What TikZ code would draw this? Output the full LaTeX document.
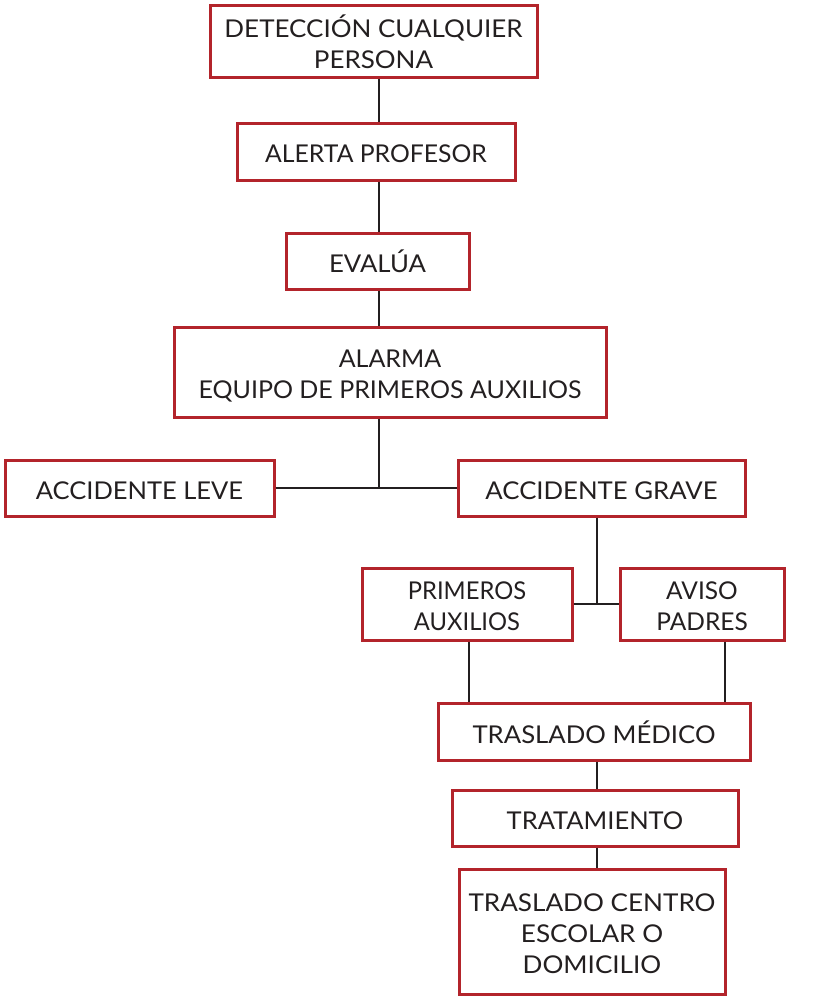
\documentclass[tikz,border=0pt]{standalone}
\usepackage{fontspec}
\setmainfont{Lato}
\definecolor{boxred}{HTML}{B3242B}
\definecolor{ink}{HTML}{231F20}
\begin{document}
\begin{tikzpicture}[x=1pt,y=-1pt,
  box/.style={draw=boxred,line width=3pt,fill=white,inner sep=0pt,align=center,
    text=ink,font=\fontsize{24.5}{31}\selectfont},
  link/.style={draw=ink,line width=2.8pt}]
\useasboundingbox (0,0) rectangle (814,999);
\newcommand{\bx}[7]{\node[box,minimum width={#4-#2},minimum height={#5-#3}] (#1) at ({(#2+#4)/2},{(#3+#5)/2}) {\raisebox{-5pt}[\height][\depth]{\scalebox{#7}[1]{\begin{tabular}{@{}c@{}}#6\end{tabular}}}};}
\bx{b1}{210}{5}{537}{77}{DETECCIÓN CUALQUIER\\PERSONA}{1.06}
\bx{b2}{237}{123}{515}{180}{ALERTA PROFESOR}{1.01}
\bx{b3}{286}{233}{469}{289}{EVALÚA}{1.05}
\bx{b4}{174}{327}{606}{417}{ALARMA\\EQUIPO DE PRIMEROS AUXILIOS}{1.02}
\bx{b5}{5}{460}{274}{516}{ACCIDENTE LEVE}{1.04}
\bx{b6}{458}{460}{745}{516}{ACCIDENTE GRAVE}{1.05}
\bx{b7}{362}{568}{572}{640}{PRIMEROS\\AUXILIOS}{0.97}
\bx{b8}{620}{568}{784}{640}{AVISO\\PADRES}{1.0}
\bx{b9}{438}{703}{750}{760}{TRASLADO MÉDICO}{1.05}
\bx{b10}{452}{790}{738}{846}{TRATAMIENTO}{1.04}
\bx{b11}{459}{869}{725}{994}{TRASLADO CENTRO\\ESCOLAR O\\DOMICILIO}{1.065}
\coordinate (j1) at (379,488);
\coordinate (j2) at (597,604);
\coordinate (xl) at (469,0);
\coordinate (xr) at (725,0);
\draw[link] (b1.south -| j1) -- (b2.north -| j1);
\draw[link] (b2.south -| j1) -- (b3.north -| j1);
\draw[link] (b3.south -| j1) -- (b4.north -| j1);
\draw[link] (b4.south -| j1) -- (j1);
\draw[link] (b5.east |- j1) -- (b6.west |- j1);
\draw[link] (b6.south -| j2) -- (j2);
\draw[link] (b7.east |- j2) -- (b8.west |- j2);
\draw[link] (b7.south -| xl) -- (b9.north -| xl);
\draw[link] (b8.south -| xr) -- (b9.north -| xr);
\draw[link] (b9.south -| j2) -- (b10.north -| j2);
\draw[link] (b10.south -| j2) -- (b11.north -| j2);
\end{tikzpicture}
\end{document}
